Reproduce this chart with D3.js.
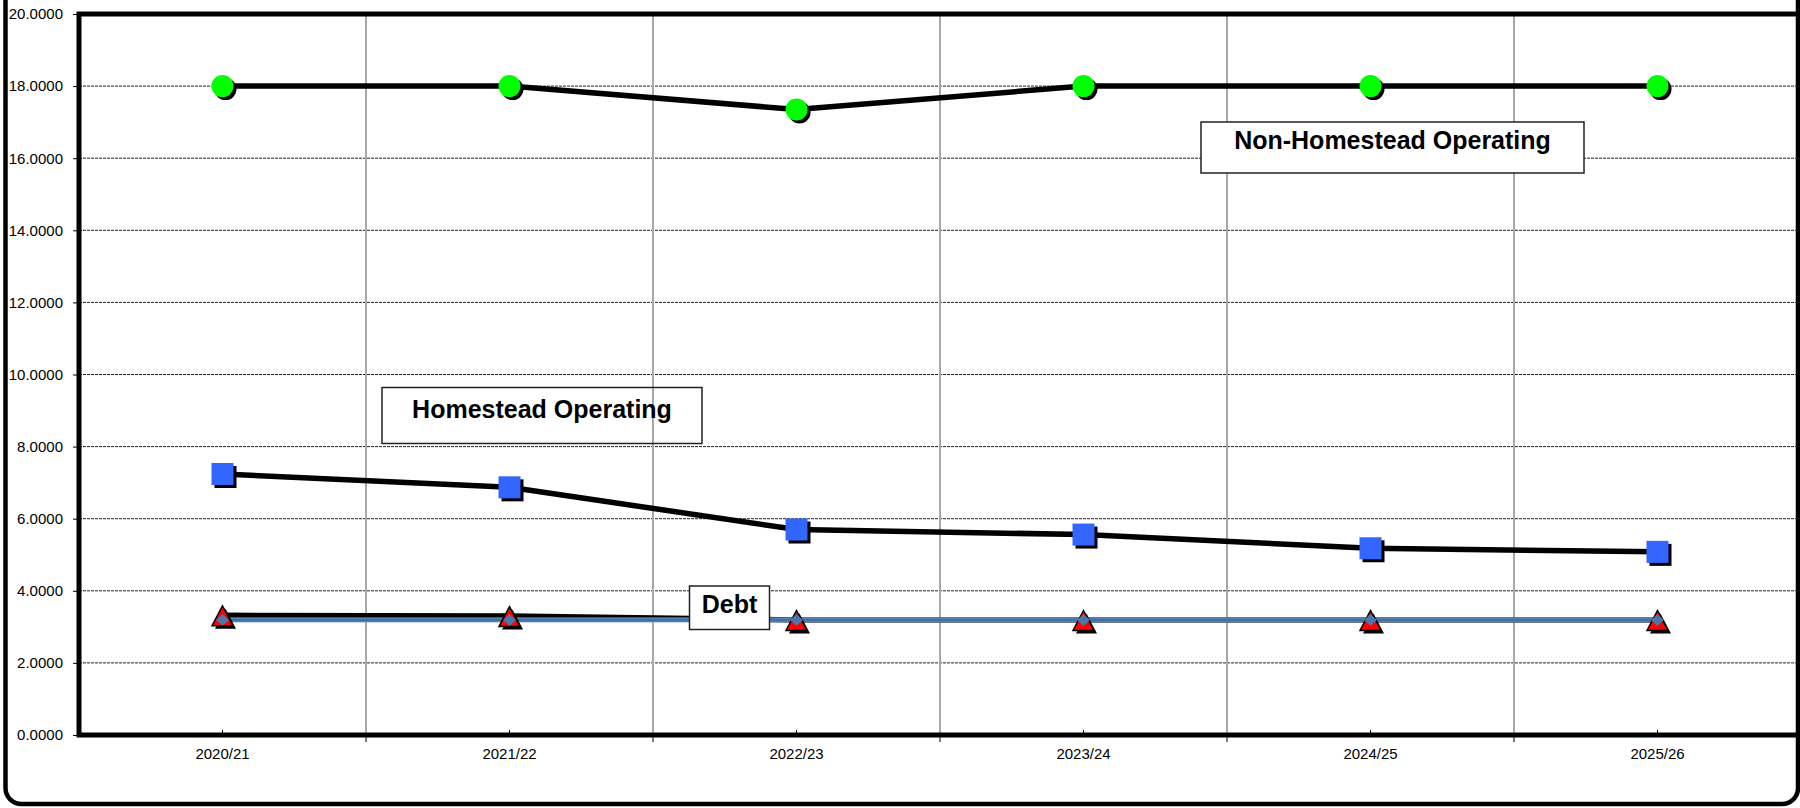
<!DOCTYPE html>
<html>
<head>
<meta charset="utf-8">
<script src="https://cdn.jsdelivr.net/npm/d3@7/dist/d3.min.js"></script>
<style>
  html, body { margin: 0; padding: 0; background: #fff; }
  svg { display: block; font-family: "Liberation Sans", Arial, sans-serif; }
</style>
</head>
<body>
<svg id="chart" width="1800" height="808"></svg>
<script>
// Fiscal years on the x axis
const years = ["2020/21", "2021/22", "2022/23", "2023/24", "2024/25", "2025/26"];

// Millage rates per year
const nonHomesteadOperating = [18.0, 18.0, 17.35, 18.0, 18.0, 18.0];
const homesteadOperating = [7.24, 6.87, 5.70, 5.56, 5.18, 5.08];
const debt = [3.32, 3.30, 3.19, 3.19, 3.19, 3.19];
const debtBase = [3.19, 3.19, 3.19, 3.19, 3.19, 3.19];

// Y axis tick values
const yTicks = [0, 2, 4, 6, 8, 10, 12, 14, 16, 18, 20];

const svg = d3.select("#chart");
const plotLeft = 79, plotRight = 1801, plotTop = 14, plotBottom = 735;

const x = d3.scaleBand().domain(years).range([plotLeft, plotRight]);
const y = d3.scaleLinear().domain([0, 20]).range([plotBottom, plotTop]);
const cx = d => x(d) + x.bandwidth() / 2;

// Outer rounded frame (top edge runs off the page)
svg.append("rect")
  .attr("x", 5.5).attr("y", -40)
  .attr("width", 1792.5).attr("height", 844)
  .attr("rx", 16).attr("ry", 16)
  .attr("fill", "#fff").attr("stroke", "#000").attr("stroke-width", 4.5);

// Horizontal dashed gridlines
svg.append("g").selectAll("line")
  .data(yTicks.filter(v => v > 0 && v < 20))
  .join("line")
  .attr("x1", plotLeft).attr("x2", plotRight)
  .attr("y1", d => y(d)).attr("y2", d => y(d))
  .attr("stroke", "#222").attr("stroke-width", 1)
  .attr("stroke-dasharray", "3,1");

// Vertical gridlines between categories
svg.append("g").selectAll("line")
  .data(years.slice(1))
  .join("line")
  .attr("x1", d => x(d)).attr("x2", d => x(d))
  .attr("y1", plotTop).attr("y2", plotBottom)
  .attr("stroke", "#a8a8a8").attr("stroke-width", 2);

// Y axis
const yAxis = svg.append("g")
  .attr("transform", `translate(${plotLeft},0)`)
  .call(d3.axisLeft(y).tickValues(yTicks).tickFormat(d => d.toFixed(4))
    .tickSize(6).tickPadding(10));
yAxis.select(".domain").remove();
yAxis.selectAll("text").attr("font-size", 15).attr("fill", "#000")
  .attr("font-family", "'Liberation Sans', Arial, sans-serif");

// X axis
const xAxis = svg.append("g")
  .attr("transform", `translate(0,${plotBottom})`)
  .call(d3.axisBottom(x).tickSize(-5).tickPadding(13.4));
xAxis.select(".domain").remove();
xAxis.selectAll("text").attr("font-size", 15).attr("fill", "#000")
  .attr("font-family", "'Liberation Sans', Arial, sans-serif");

// Category boundary ticks below the x axis
svg.append("g").selectAll("line")
  .data(years.slice(1))
  .join("line")
  .attr("x1", d => x(d)).attr("x2", d => x(d))
  .attr("y1", plotBottom).attr("y2", plotBottom + 7)
  .attr("stroke", "#000").attr("stroke-width", 1);

// Plot area border
svg.append("path")
  .attr("d", `M${plotRight},${plotTop}H${plotLeft}V${plotBottom}H${plotRight}`)
  .attr("fill", "none").attr("stroke", "#000").attr("stroke-width", 5)
  .attr("stroke-linejoin", "miter");

const line = d3.line().x((d, i) => cx(years[i])).y(d => y(d));

function drawLine(values, color, width) {
  svg.append("path").datum(values)
    .attr("d", line)
    .attr("fill", "none").attr("stroke", color)
    .attr("stroke-width", width).attr("stroke-linejoin", "round");
}

drawLine(nonHomesteadOperating, "#000", 5.5);
drawLine(homesteadOperating, "#000", 5.5);
drawLine(debt, "#000", 5.5);
drawLine(debtBase, "#8fb0d8", 5);
drawLine(debtBase, "#44709f", 3.5);

const sh = 3; // marker shadow offset

// Green circles
const circ = svg.append("g").selectAll("g").data(nonHomesteadOperating).join("g")
  .attr("transform", (d, i) => `translate(${cx(years[i])},${y(d)})`);
circ.append("circle").attr("cx", sh).attr("cy", sh).attr("r", 11).attr("fill", "#000");
circ.append("circle").attr("r", 11).attr("fill", "#00ff00");

// Blue squares
const sq = svg.append("g").selectAll("g").data(homesteadOperating).join("g")
  .attr("transform", (d, i) => `translate(${cx(years[i])},${y(d)})`);
sq.append("rect").attr("x", -11 + sh).attr("y", -11 + sh).attr("width", 22).attr("height", 22).attr("fill", "#000");
sq.append("rect").attr("x", -11).attr("y", -11).attr("width", 22).attr("height", 22).attr("fill", "#3366ff");

// Red triangles
const triPath = "M0,-10.5L10.5,9.5L-10.5,9.5Z";
const tr = svg.append("g").selectAll("g").data(debt).join("g")
  .attr("transform", (d, i) => `translate(${cx(years[i])},${y(d) + 1})`);
tr.append("path").attr("d", triPath).attr("transform", `translate(${sh},${sh})`).attr("fill", "#000");
tr.append("path").attr("d", triPath).attr("fill", "#ff0000").attr("stroke", "#000").attr("stroke-width", 1.5)
  .attr("stroke-linejoin", "miter");

// Steel blue diamonds
const diaPath = "M0,-6L6.5,0L0,6L-6.5,0Z";
svg.append("g").selectAll("path").data(debtBase).join("path")
  .attr("transform", (d, i) => `translate(${cx(years[i])},${y(d)})`)
  .attr("d", diaPath).attr("fill", "#4a76a8");

// Series label boxes
function labelBox(text, x0, y0, w, h, baseline, opaque) {
  svg.append("rect").attr("x", x0).attr("y", y0).attr("width", w).attr("height", h)
    .attr("fill", opaque ? "#fff" : "none").attr("stroke", "#222").attr("stroke-width", 1.5);
  svg.append("text").attr("x", x0 + w / 2).attr("y", y0 + baseline)
    .attr("text-anchor", "middle").attr("font-size", 25).attr("font-weight", "bold")
    .attr("fill", "#000").text(text);
}
labelBox("Non-Homestead Operating", 1201, 122, 383, 51, 27, true);
labelBox("Homestead Operating", 382, 387.5, 320, 56, 30, false);
labelBox("Debt", 689.5, 586, 80, 43.5, 27, true);
</script>
</body>
</html>
